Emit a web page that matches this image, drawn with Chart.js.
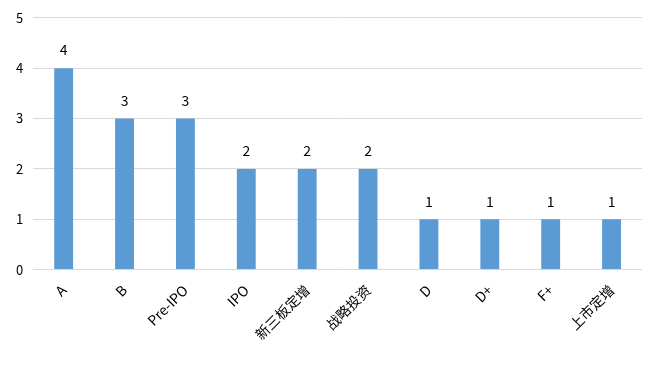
<!DOCTYPE html>
<html>
<head>
<meta charset="utf-8">
<script src="https://cdn.jsdelivr.net/npm/chart.js@4/dist/chart.umd.min.js"></script>
<style>
  html, body { margin: 0; padding: 0; background: #fff; }
  #wrap { width: 672px; height: 369px; }
</style>
</head>
<body>
<div id="wrap"><canvas id="myChart"></canvas></div>
<script>
const categories = ['A', 'B', 'Pre-IPO', 'IPO', '新三板定增', '战略投资', 'D', 'D+', 'F+', '上市定增'];
const counts = [4, 3, 3, 2, 2, 2, 1, 1, 1, 1];
const yTicks = [0, 1, 2, 3, 4, 5];

const fontFamily = '"Noto Sans CJK SC", "Liberation Sans", sans-serif';

// numbers above the bars
const valueLabels = {
    id: 'valueLabels',
    afterDatasetsDraw(chart) {
        const ctx = chart.ctx;
        const meta = chart.getDatasetMeta(0);
        ctx.save();
        ctx.font = '14px ' + fontFamily;
        ctx.fillStyle = '#000';
        ctx.textAlign = 'center';
        ctx.textBaseline = 'bottom';
        meta.data.forEach(function (bar, i) {
            ctx.fillText(counts[i], bar.x, bar.y - 11);
        });
        ctx.restore();
    }
};

function drawChart() {
    var ctx = document.getElementById('myChart').getContext('2d');
    new Chart(ctx, {
        type: 'bar',
        data: {
            labels: categories,
            datasets: [{
                data: counts,
                backgroundColor: '#5B9BD5',
                categoryPercentage: 1,
                barPercentage: 0.31
            }]
        },
        options: {
            responsive: true,
            maintainAspectRatio: false,
            animation: false,
            layout: { padding: { left: 6, right: 30, top: 12, bottom: 14 } },
            plugins: { legend: { display: false }, tooltip: { enabled: false } },
            scales: {
                x: {
                    grid: { display: false, drawTicks: false },
                    border: { display: false },
                    ticks: {
                        color: '#000',
                        font: { family: fontFamily, size: 14 },
                        minRotation: 45,
                        maxRotation: 45,
                        padding: 12
                    }
                },
                y: {
                    min: 0,
                    max: 5,
                    afterBuildTicks: function (axis) {
                        axis.ticks = yTicks.map(function (v) { return { value: v }; });
                    },
                    grid: { color: '#d9d9d9', drawTicks: false },
                    border: { display: false },
                    ticks: {
                        color: '#000',
                        font: { family: fontFamily, size: 13 },
                        padding: 10
                    }
                }
            }
        },
        plugins: [valueLabels]
    });
}

drawChart();
</script>
</body>
</html>
